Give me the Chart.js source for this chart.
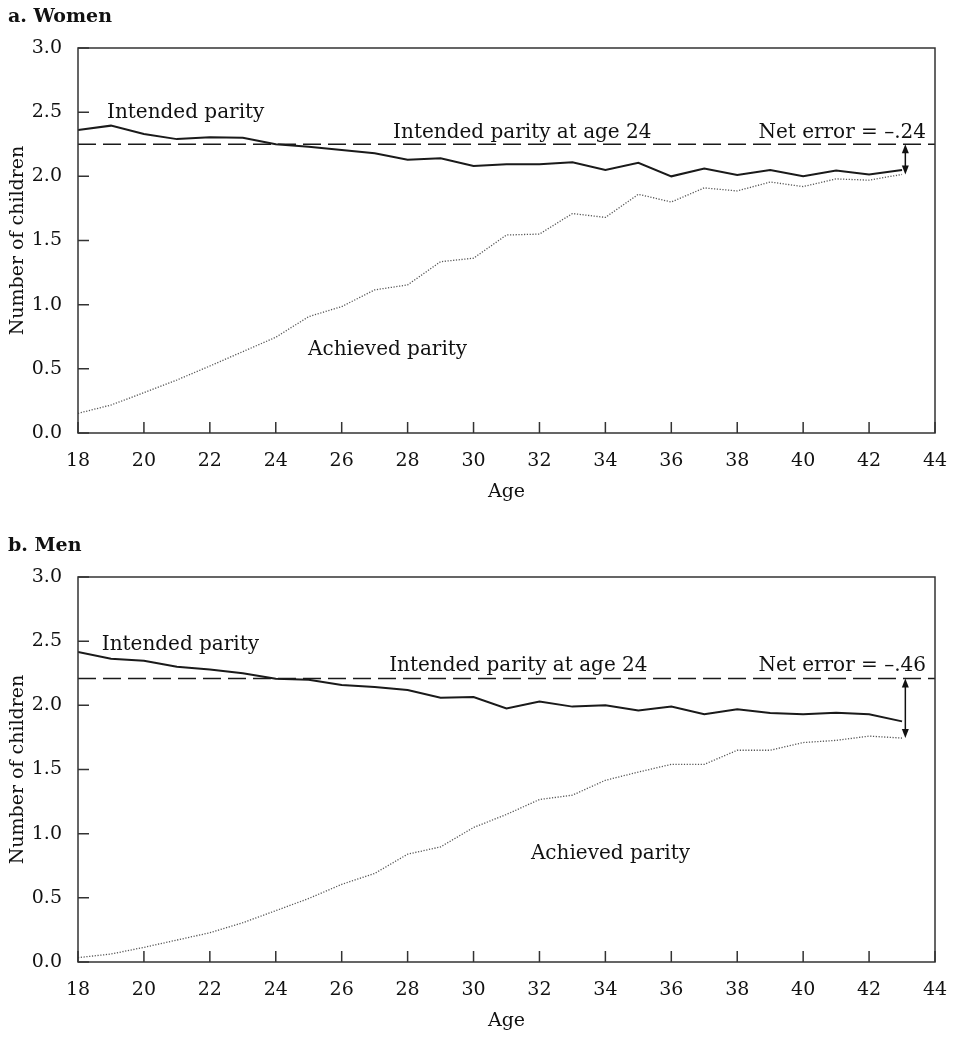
<!DOCTYPE html>
<html>
<head>
<meta charset="utf-8">
<script src="https://cdn.jsdelivr.net/npm/chart.js@4.4.1/dist/chart.umd.min.js"></script>
<style>
  html, body { margin: 0; padding: 0; background: #fff; }
  body { width: 972px; height: 1050px; position: relative; overflow: hidden; }
  canvas { position: absolute; left: 0; }
  #women { top: 0; }
  #men { top: 529px; }
</style>
</head>
<body>
<canvas id="women" width="972" height="521"></canvas>
<canvas id="men" width="972" height="521"></canvas>
<script>
// Ages (x categories)
const ages = [18, 19, 20, 21, 22, 23, 24, 25, 26, 27, 28, 29, 30,
              31, 32, 33, 34, 35, 36, 37, 38, 39, 40, 41, 42, 43];

// a. Women
const womenIntended = [2.36, 2.395, 2.33, 2.29, 2.305, 2.30, 2.25, 2.23, 2.205, 2.18, 2.13, 2.14, 2.08,
                       2.095, 2.095, 2.11, 2.05, 2.105, 2.00, 2.06, 2.01, 2.05, 2.00, 2.045, 2.015, 2.05];
const womenAchieved = [0.153, 0.218, 0.314, 0.413, 0.522, 0.634, 0.746, 0.907, 0.985, 1.115, 1.154, 1.335, 1.362,
                       1.543, 1.55, 1.71, 1.68, 1.86, 1.80, 1.91, 1.886, 1.956, 1.92, 1.98, 1.97, 2.015];

// b. Men
const menIntended = [2.415, 2.363, 2.348, 2.30, 2.28, 2.25, 2.207, 2.20, 2.158, 2.142, 2.12, 2.06, 2.065,
                     1.975, 2.03, 1.99, 2.00, 1.96, 1.99, 1.93, 1.97, 1.94, 1.93, 1.943, 1.93, 1.875];
const menAchieved = [0.034, 0.062, 0.114, 0.171, 0.228, 0.306, 0.40, 0.495, 0.605, 0.69, 0.84, 0.897, 1.048,
                     1.15, 1.266, 1.30, 1.416, 1.48, 1.54, 1.54, 1.65, 1.65, 1.71, 1.727, 1.76, 1.745];

// Intended parity at age 24 (reference level) and net error labels
const refAt24 = [2.25, 2.21];
const netErrorLabels = ['Net error = \u2013.24', 'Net error = \u2013.46'];
const panelTitles = ['a. Women', 'b. Men'];

// Axis ticks
const xTicks = [18, 20, 22, 24, 26, 28, 30, 32, 34, 36, 38, 40, 42, 44];
const yTicks = [0.0, 0.5, 1.0, 1.5, 2.0, 2.5, 3.0];

const FONT = "'DejaVu Serif', 'Liberation Serif', serif";
const INK = '#1a1a1a';

/**
 * Draws frame, inward ticks, panel title, text labels and the net error arrow
 */
const decorPlugin = {
    id: 'decor',
    afterDraw(chart, args, opts) {
        const { ctx, chartArea: a, scales: { x, y } } = chart;
        ctx.save();

        // frame
        ctx.strokeStyle = '#333';
        ctx.lineWidth = 1.5;
        ctx.strokeRect(a.left, a.top, a.right - a.left, a.bottom - a.top);

        // inward ticks
        ctx.beginPath();
        y.ticks.forEach(t => {
            const py = y.getPixelForValue(t.value);
            ctx.moveTo(a.left, py);
            ctx.lineTo(a.left + 11, py);
        });
        x.ticks.forEach(t => {
            const px = x.getPixelForValue(t.value);
            ctx.moveTo(px, a.bottom);
            ctx.lineTo(px, a.bottom - 11);
        });
        ctx.stroke();

        // panel title
        ctx.fillStyle = '#111';
        ctx.font = 'bold 19px ' + FONT;
        ctx.textAlign = 'left';
        ctx.textBaseline = 'alphabetic';
        ctx.fillText(opts.title, 8, 22);

        // labels placed in data coordinates
        ctx.font = '20px ' + FONT;
        opts.labels.forEach(l => {
            ctx.textAlign = l.align || 'left';
            const px = l.px !== undefined ? l.px : x.getPixelForValue(l.x);
            ctx.fillText(l.text, px, y.getPixelForValue(l.y));
        });

        // double-headed arrow for net error
        const ax = x.getPixelForValue(opts.arrowX);
        const y1 = y.getPixelForValue(opts.arrowFrom);
        const y2 = y.getPixelForValue(opts.arrowTo);
        ctx.strokeStyle = '#111';
        ctx.fillStyle = '#111';
        ctx.lineWidth = 1.5;
        ctx.beginPath();
        ctx.moveTo(ax, y1 + 6);
        ctx.lineTo(ax, y2 - 6);
        ctx.stroke();
        ctx.beginPath();
        ctx.moveTo(ax, y1);
        ctx.lineTo(ax - 3.5, y1 + 9);
        ctx.lineTo(ax + 3.5, y1 + 9);
        ctx.closePath();
        ctx.fill();
        ctx.beginPath();
        ctx.moveTo(ax, y2);
        ctx.lineTo(ax - 3.5, y2 - 9);
        ctx.lineTo(ax + 3.5, y2 - 9);
        ctx.closePath();
        ctx.fill();

        ctx.restore();
    }
};

function makePanel(canvasId, idx, intended, achieved, labels) {
    const ctx = document.getElementById(canvasId);
    const ref = refAt24[idx];
    return new Chart(ctx, {
        type: 'line',
        data: {
            datasets: [{
                label: 'Intended parity',
                data: ages.map((a, i) => ({ x: a, y: intended[i] })),
                borderColor: INK,
                borderWidth: 2,
                pointRadius: 0,
                tension: 0
            }, {
                label: 'Achieved parity',
                data: ages.map((a, i) => ({ x: a, y: achieved[i] })),
                borderColor: '#555',
                borderWidth: 1.3,
                borderDash: [1.2, 1.6],
                pointRadius: 0,
                tension: 0
            }, {
                label: 'Intended parity at age 24',
                data: [{ x: xTicks[0], y: ref }, { x: xTicks[xTicks.length - 1], y: ref }],
                borderColor: INK,
                borderWidth: 1.5,
                borderDash: [18, 7],
                pointRadius: 0
            }]
        },
        options: {
            responsive: false,
            animation: false,
            layout: { padding: { top: 48, right: 37, left: 0, bottom: 0 } },
            plugins: {
                legend: { display: false },
                tooltip: { enabled: false },
                decor: {
                    title: panelTitles[idx],
                    labels: labels,
                    arrowX: 43.1,
                    arrowFrom: ref,
                    arrowTo: achieved[achieved.length - 1]
                }
            },
            scales: {
                x: {
                    type: 'linear',
                    min: xTicks[0],
                    max: xTicks[xTicks.length - 1],
                    afterBuildTicks: s => { s.ticks = xTicks.map(v => ({ value: v })); },
                    afterFit: s => { s.height = 88; },
                    grid: { display: false, drawTicks: false },
                    border: { display: false },
                    ticks: {
                        padding: 17,
                        maxRotation: 0,
                        color: '#111',
                        font: { family: FONT, size: 19 }
                    },
                    title: {
                        display: true,
                        text: 'Age',
                        color: '#111',
                        font: { family: FONT, size: 19 },
                        padding: { top: 0, bottom: 18 }
                    }
                },
                y: {
                    min: 0,
                    max: 3,
                    afterBuildTicks: s => { s.ticks = yTicks.map(v => ({ value: v })); },
                    afterFit: s => { s.width = 78; },
                    grid: { display: false, drawTicks: false },
                    border: { display: false },
                    ticks: {
                        padding: 16,
                        color: '#111',
                        font: { family: FONT, size: 19 },
                        callback: v => v.toFixed(1)
                    },
                    title: {
                        display: true,
                        text: 'Number of children',
                        color: '#111',
                        font: { family: FONT, size: 19 },
                        padding: { top: 7, bottom: 0 }
                    }
                }
            }
        },
        plugins: [decorPlugin]
    });
}

makePanel('women', 0, womenIntended, womenAchieved, [
    { text: 'Intended parity', x: 18.88, y: 2.455 },
    { text: 'Intended parity at age 24', x: 27.56, y: 2.30 },
    { text: netErrorLabels[0], px: 926, y: 2.30, align: 'right' },
    { text: 'Achieved parity', x: 24.98, y: 0.608 }
]);

makePanel('men', 1, menIntended, menAchieved, [
    { text: 'Intended parity', x: 18.72, y: 2.43 },
    { text: 'Intended parity at age 24', x: 27.44, y: 2.267 },
    { text: netErrorLabels[1], px: 926, y: 2.267, align: 'right' },
    { text: 'Achieved parity', x: 31.74, y: 0.80 }
]);
</script>
</body>
</html>
